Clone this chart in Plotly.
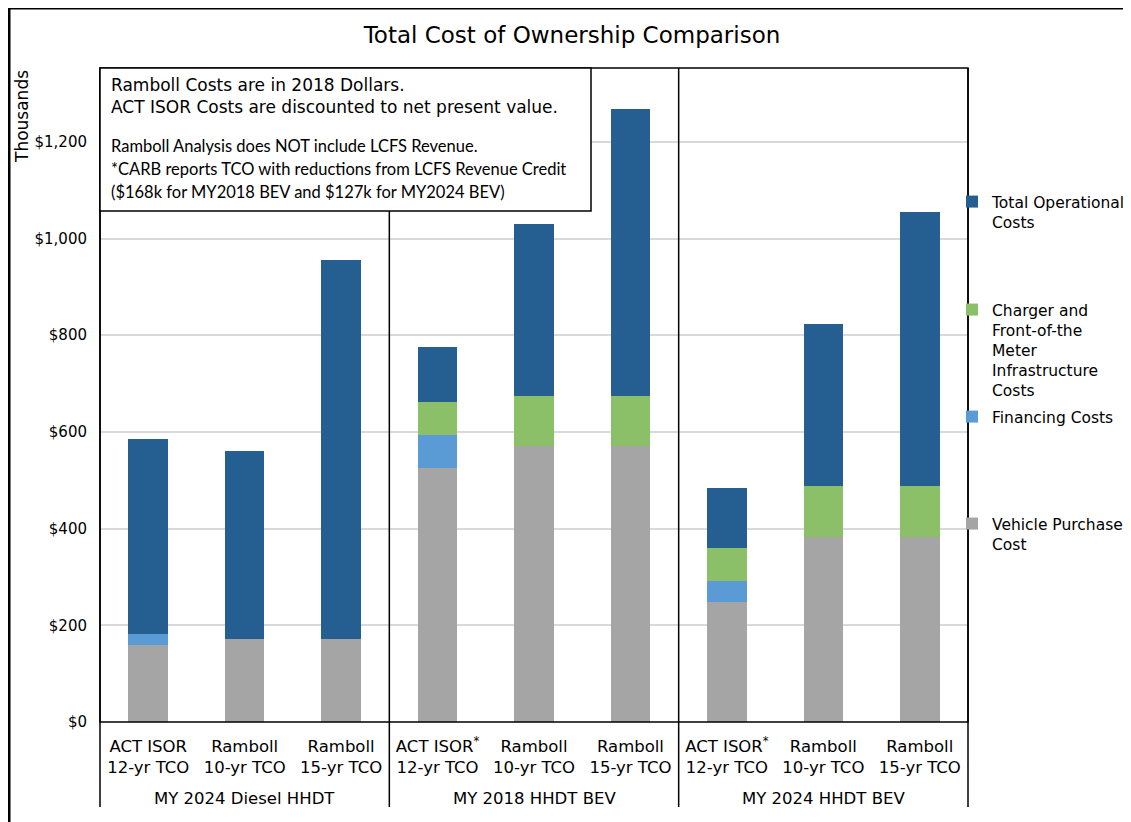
import plotly.graph_objects as go

# categories
groups = ["MY 2024 Diesel HHDT", "MY 2018 HHDT BEV", "MY 2024 HHDT BEV"]
bar_keys = ["D-ACT", "D-R10", "D-R15", "B18-ACT", "B18-R10", "B18-R15", "B24-ACT", "B24-R10", "B24-R15"]
bar_labels = [
    "ACT ISOR<br>12-yr TCO", "Ramboll<br>10-yr TCO", "Ramboll<br>15-yr TCO",
    "ACT ISOR<sup>*</sup><br>12-yr TCO", "Ramboll<br>10-yr TCO", "Ramboll<br>15-yr TCO",
    "ACT ISOR<sup>*</sup><br>12-yr TCO", "Ramboll<br>10-yr TCO", "Ramboll<br>15-yr TCO",
]

# values in thousands of dollars
vehicle_purchase = [159, 172, 172, 526, 570, 570, 249, 383, 383]
financing = [22, None, None, 67, None, None, 42, None, None]
charger_infra = [None, None, None, 69, 105, 105, 68, 105, 105]
operational = [405, 389, 784, 114, 354, 592, 125, 335, 567]

y_ticks = [0, 200, 400, 600, 800, 1000, 1200]
y_ticktext = ["$0", "$200", "$400", "$600", "$800", "$1,000", "$1,200"]

# page has an 8px body margin, so the figure is a bit smaller than the window
OFF = 8
WIN_W, WIN_H = 1131, 822
W, H = WIN_W - OFF, WIN_H - OFF
L, R, T, B = 100, 968, 68, 722  # plot area in window pixels
PW, PH = R - L, B - T


def fx(px):
    return (px - L) / PW


def fy(py):
    return (B - py) / PH


FONT = "DejaVu Sans"

fig = go.Figure()

series = [
    ("Vehicle Purchase<br>Cost", vehicle_purchase, "#A5A5A5", "legend4"),
    ("Financing Costs", financing, "#5B9BD5", "legend3"),
    ("Charger and<br>Front-of-the<br>Meter<br>Infrastructure<br>Costs", charger_infra, "#8CC068", "legend2"),
    ("Total Operational<br>Costs", operational, "#255E91", "legend"),
]
for name, vals, color, leg in series:
    fig.add_trace(go.Bar(
        x=bar_keys, y=vals, name=name, legend=leg, showlegend=True,
        marker=dict(color=color, line=dict(width=0)),
    ))

legend_tops = {"legend": 185, "legend2": 293, "legend3": 400, "legend4": 507}
legend_cfg = {}
for leg, top in legend_tops.items():
    legend_cfg[leg] = dict(
        x=fx(952), y=fy(top), xanchor="left", yanchor="top",
        font=dict(family=FONT, size=15.5, color="#000"),
        valign="top", bgcolor="rgba(0,0,0,0)", visible=True,
    )

shapes = []
# outer frame (left and top)
shapes.append(dict(type="line", xref="paper", yref="paper", x0=fx(9), x1=fx(9), y0=fy(8), y1=fy(840),
                   line=dict(color="#000", width=3)))
shapes.append(dict(type="line", xref="paper", yref="paper", x0=fx(9), x1=fx(1150), y0=fy(8), y1=fy(8),
                   line=dict(color="#000", width=3)))
# plot border
shapes.append(dict(type="rect", xref="x domain", yref="y domain", x0=0, x1=1, y0=0, y1=1,
                   line=dict(color="#000", width=1.5)))
# group dividers
for xd in [0, 1 / 3, 2 / 3, 1]:
    shapes.append(dict(type="line", xref="x domain", yref="paper", x0=xd, x1=xd, y0=fy(807), y1=1,
                       line=dict(color="#000", width=1.5)))
# note box
shapes.append(dict(type="rect", xref="paper", yref="paper", x0=fx(100), x1=fx(591), y0=fy(211), y1=fy(68),
                   fillcolor="#fff", line=dict(color="#000", width=1.5), layer="above"))

annotations = []
# group labels
for i, g in enumerate(groups):
    annotations.append(dict(text=g, xref="x domain", yref="paper", x=(2 * i + 1) / 6, y=fy(798),
                            xanchor="center", yanchor="middle", showarrow=False,
                            font=dict(family=FONT, size=16.5, color="#000")))
# y axis title
annotations.append(dict(text="Thousands", xref="paper", yref="paper", x=fx(22), y=fy(117),
                        xanchor="center", yanchor="middle", textangle=-90, showarrow=False,
                        font=dict(family=FONT, size=17, color="#000")))
# note text
annotations.append(dict(
    text="Ramboll Costs are in 2018 Dollars.<br>ACT ISOR Costs are discounted to net present value.",
    xref="paper", yref="paper", x=fx(109), y=fy(73), xanchor="left", yanchor="top", align="left",
    showarrow=False, font=dict(family=FONT, size=17, color="#000")))
note_lines = [
    "Ramboll Analysis does NOT include LCFS Revenue.",
    "*CARB reports TCO with reductions from LCFS Revenue Credit",
    "($168k for MY2018 BEV and $127k for MY2024 BEV)",
]
for i, line in enumerate(note_lines):
    annotations.append(dict(text=line, xref="paper", yref="paper", x=fx(109), y=fy(146 + 23 * i),
                            xanchor="left", yanchor="middle", align="left", showarrow=False,
                            font=dict(family="Lato", size=16.5, color="#000")))

fig.update_layout(
    width=W, height=H,
    margin=dict(l=L - OFF, r=WIN_W - R, t=T - OFF, b=WIN_H - B, autoexpand=False),
    paper_bgcolor="#fff", plot_bgcolor="#fff",
    barmode="stack", bargap=0.59, showlegend=True,
    title=dict(text="Total Cost of Ownership Comparison", x=(572 - OFF) / W, xref="container",
               xanchor="center", y=1 - (35 - OFF) / H, yref="container", yanchor="middle",
               font=dict(family=FONT, size=23, color="#000")),
    xaxis=dict(
        type="category", tickmode="array", tickvals=bar_keys, ticktext=bar_labels,
        showgrid=False, showline=False, ticks="", ticklabelstandoff=12,
        tickfont=dict(family=FONT, size=16.5, color="#000"),
    ),
    yaxis=dict(
        range=[0, (B - T) / 0.4835], tickmode="array", tickvals=y_ticks, ticktext=y_ticktext,
        showgrid=True, gridcolor="#D9D9D9", gridwidth=1.5, zeroline=False, showline=False,
        ticks="", ticklabelstandoff=12,
        tickfont=dict(family=FONT, size=15, color="#000"),
    ),
    shapes=shapes, annotations=annotations,
    **legend_cfg,
)

fig.write_html("out.html")
